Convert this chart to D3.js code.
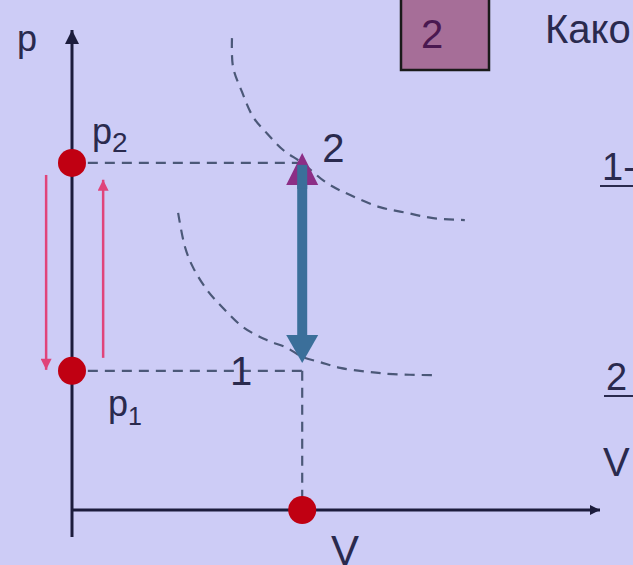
<!DOCTYPE html>
<html lang="ru">
  <head>
    <meta charset="UTF-8" />
    <title>p-V диаграмма</title>
    <script src="https://cdnjs.cloudflare.com/ajax/libs/d3/7.8.5/d3.min.js"></script>
    <style>
      html, body {
        margin: 0;
        padding: 0;
        background-color: #cdccf6;
        overflow: hidden;
      }
      svg text {
        font-family: "Liberation Sans", Arial, sans-serif;
        fill: #2a2a4e;
      }
    </style>
  </head>
  <body>
    <div id="chart"></div>
    <script>
      const width = 633;
      const height = 565;

      // state values (in chart units)
      const V1 = 4.36;
      const p1 = 2.9;
      const p2 = 7.23;

      // upper isotherm (through state 2)
      const upperV = [3.03, 3.05, 3.22, 3.43, 3.69, 4.0, 4.36, 4.83, 5.27, 5.83, 6.34, 6.84, 7.44];
      const upperP = [9.83, 9.23, 8.71, 8.19, 7.85, 7.5, 7.23, 6.81, 6.56, 6.31, 6.19, 6.08, 6.04];

      // lower isotherm (through state 1)
      const lowerV = [2.01, 2.14, 2.29, 2.56, 2.86, 3.24, 3.69, 4.07, 4.36, 4.7, 5.08, 5.59, 6.08, 6.82];
      const lowerP = [6.19, 5.48, 5.06, 4.58, 4.21, 3.81, 3.54, 3.38, 3.19, 3.08, 2.96, 2.88, 2.83, 2.81];

      // red arrows beside the p axis: [V, pFrom, pTo]
      const sideArrows = [
        [-0.49, 6.98, 2.92],
        [0.59, 3.17, 6.88],
      ];

      const svg = d3
        .select("#chart")
        .append("svg")
        .attr("width", width)
        .attr("height", height);

      const x = d3.scaleLinear().domain([0, 10]).range([72, 600]);
      const y = d3.scaleLinear().domain([0, 10]).range([510, 30]);

      const dark = "#1c1c3c";
      const dashCol = "#4b5878";

      const defs = svg.append("defs");
      function marker(id, color, w, h) {
        defs
          .append("marker")
          .attr("id", id)
          .attr("viewBox", "0 0 10 10")
          .attr("refX", 10)
          .attr("refY", 5)
          .attr("markerUnits", "userSpaceOnUse")
          .attr("markerWidth", w)
          .attr("markerHeight", h)
          .attr("orient", "auto")
          .append("path")
          .attr("d", "M0,0 L10,5 L0,10 Z")
          .attr("fill", color);
      }
      marker("ax-head", dark, 14, 16);
      marker("ax-head-small", dark, 12, 10);
      marker("red-head", "#e0447a", 12, 11);

      // answer box at top
      svg
        .append("rect")
        .attr("x", 401)
        .attr("y", -2)
        .attr("width", 88)
        .attr("height", 72)
        .attr("fill", "#a66e98")
        .attr("stroke", "#1a1a1a")
        .attr("stroke-width", 2.5);
      svg
        .append("text")
        .attr("x", 432)
        .attr("y", 48)
        .attr("text-anchor", "middle")
        .attr("font-size", 40)
        .style("fill", "#4a1850")
        .text("2");

      svg
        .append("text")
        .attr("x", 545)
        .attr("y", 43)
        .attr("font-size", 40)
        .text("Каков");

      // right side text, cut by the edge as in the original
      svg.append("text").attr("x", 602).attr("y", 180).attr("font-size", 38).text("1-2");
      svg.append("line").attr("x1", 600).attr("x2", 640).attr("y1", 186).attr("y2", 186)
        .attr("stroke", "#2a2a4e").attr("stroke-width", 2);
      svg.append("text").attr("x", 606).attr("y", 390).attr("font-size", 38).text("2");
      svg.append("line").attr("x1", 604).attr("x2", 640).attr("y1", 396).attr("y2", 396)
        .attr("stroke", "#2a2a4e").attr("stroke-width", 2);
      svg.append("text").attr("x", 603).attr("y", 476).attr("font-size", 40).text("V");

      // isotherms
      const line = d3
        .line()
        .x((d) => x(d[0]))
        .y((d) => y(d[1]))
        .curve(d3.curveCatmullRom);

      [
        [upperV, upperP],
        [lowerV, lowerP],
      ].forEach(([vs, ps]) => {
        svg
          .append("path")
          .attr("d", line(vs.map((v, i) => [v, ps[i]])))
          .attr("fill", "none")
          .attr("stroke", dashCol)
          .attr("stroke-width", 2.2)
          .attr("stroke-dasharray", "10,7");
      });

      // guide lines
      [
        [0.3, p2, V1, p2],
        [0.3, p1, V1, p1],
        [V1, p1, V1, 0.25],
      ].forEach((d) => {
        svg
          .append("line")
          .attr("x1", x(d[0]))
          .attr("y1", y(d[1]))
          .attr("x2", x(d[2]))
          .attr("y2", y(d[3]))
          .attr("stroke", dashCol)
          .attr("stroke-width", 2.2)
          .attr("stroke-dasharray", "10,7");
      });

      // axes
      svg
        .append("line")
        .attr("x1", x(0))
        .attr("y1", y(-0.56))
        .attr("x2", x(0))
        .attr("y2", y(10))
        .attr("stroke", dark)
        .attr("stroke-width", 3)
        .attr("marker-end", "url(#ax-head)");
      svg
        .append("line")
        .attr("x1", x(0))
        .attr("y1", y(0))
        .attr("x2", x(10))
        .attr("y2", y(0))
        .attr("stroke", dark)
        .attr("stroke-width", 3)
        .attr("marker-end", "url(#ax-head-small)");

      // red arrows
      sideArrows.forEach((d) => {
        svg
          .append("line")
          .attr("x1", x(d[0]))
          .attr("y1", y(d[1]))
          .attr("x2", x(d[0]))
          .attr("y2", y(d[2]))
          .attr("stroke", "#e0447a")
          .attr("stroke-width", 2.5)
          .attr("marker-end", "url(#red-head)");
      });

      // blue isochoric double arrow
      const pTop = 7.44;
      const pBot = 3.06;
      const head = 28;
      svg
        .append("line")
        .attr("x1", x(V1))
        .attr("x2", x(V1))
        .attr("y1", y(pTop) + head - 4)
        .attr("y2", y(pBot) - head + 4)
        .attr("stroke", "#3b6f9a")
        .attr("stroke-width", 10);
      svg
        .append("path")
        .attr("d", `M${x(V1)},${y(pTop)} l-16,${head + 4} l32,0 Z`)
        .attr("fill", "#8c2e86");
      svg
        .append("rect")
        .attr("x", x(V1) - 5)
        .attr("y", y(pTop) + 12)
        .attr("width", 10)
        .attr("height", 24)
        .attr("fill", "#3b6f9a");
      svg
        .append("path")
        .attr("d", `M${x(V1)},${y(pBot)} l-16,${-head} l32,0 Z`)
        .attr("fill", "#3b6f9a");

      // state dots
      [
        [0, p2],
        [0, p1],
        [V1, 0],
      ].forEach((d) => {
        svg
          .append("circle")
          .attr("cx", x(d[0]))
          .attr("cy", y(d[1]))
          .attr("r", 14)
          .attr("fill", "#c00012");
      });

      // labels
      svg.append("text").attr("x", 17).attr("y", 51).attr("font-size", 36).text("p");

      const lp2 = svg.append("text").attr("x", 92).attr("y", 144).attr("font-size", 36);
      lp2.append("tspan").text("p");
      lp2.append("tspan").attr("font-size", 28).attr("dy", 8).text("2");

      const lp1 = svg.append("text").attr("x", 108).attr("y", 416).attr("font-size", 36);
      lp1.append("tspan").text("p");
      lp1.append("tspan").attr("font-size", 25).attr("dy", 9).text("1");

      svg.append("text").attr("x", x(V1) + 20).attr("y", y(p2) - 1).attr("font-size", 40).text("2");
      svg.append("text").attr("x", 230).attr("y", y(p1) + 14).attr("font-size", 40).text("1");

      svg.append("text").attr("x", 331).attr("y", 565).attr("font-size", 42).text("V");
    </script>
  </body>
</html>
